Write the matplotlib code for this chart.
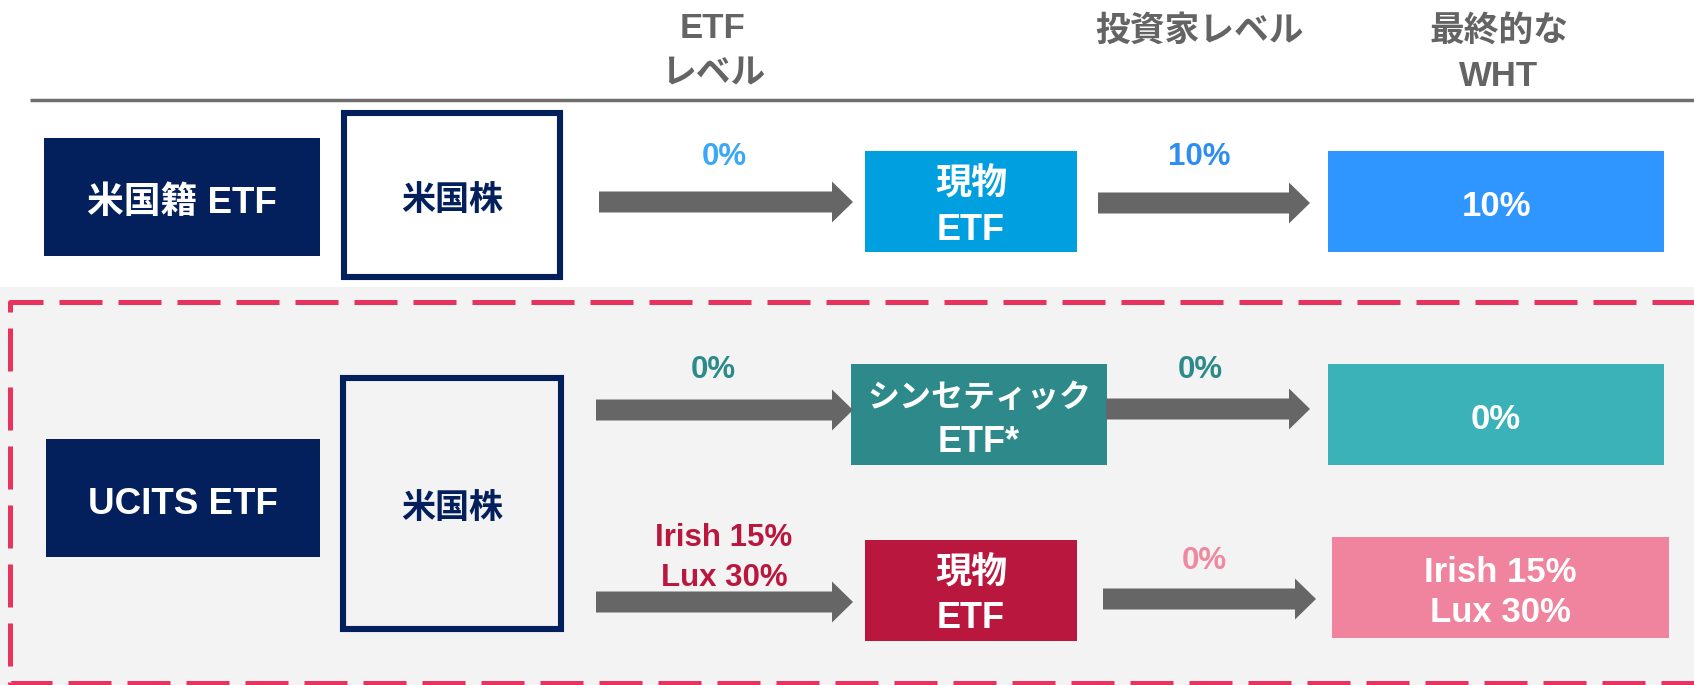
import matplotlib
matplotlib.use("Agg")
import matplotlib.pyplot as plt
from matplotlib.patches import Rectangle, FancyArrow

# ---- data ----
header_labels = ['ETF\nレベル', '投資家レベル', '最終的な\nWHT']
etf_types = ['米国籍 ETF', 'UCITS ETF']
underlying = ['米国株', '米国株']
structures = ['現物\nETF', 'シンセティック\nETF*', '現物\nETF']
etf_level_rates = ['0%', '0%', 'Irish 15%\nLux 30%']
investor_level_rates = ['10%', '0%', '0%']
final_wht = ['10%', '0%', 'Irish 15%\nLux 30%']

# ---- styles ----
FAM = ['Liberation Sans', 'Noto Sans CJK JP', 'DejaVu Sans']
NAVY = '#03205C'
GRAY_TXT = '#646464'
ARROW = '#666666'
struct_colors = ['#009FDF', '#2D898A', '#BA173E']
final_colors = ['#2F96FF', '#3AB2B7', '#F0839D']
etf_rate_colors = ['#3BA8F5', '#2C8A8A', '#BA173E']
inv_rate_colors = ['#2D8EF0', '#2C8A8A', '#F088A0']

fig = plt.figure(figsize=(16.94, 6.85), dpi=100)
ax = fig.add_axes([0, 0, 1, 1])
ax.set_xlim(0, 1694)
ax.set_ylim(685, 0)
ax.axis('off')

def txt(x, y, s, size, color, ls=1.25):
    ax.text(x, y, s, ha='center', va='center', fontsize=size, color=color,
            fontweight='bold', family=FAM, linespacing=ls, multialignment='center')

def box(x0, y0, x1, y1, fc):
    ax.add_patch(Rectangle((x0, y0), x1 - x0, y1 - y0, facecolor=fc, edgecolor='none'))

def arrow(x0, x1, yc):
    ax.add_patch(FancyArrow(x0, yc, x1 - x0, 0, width=21, head_width=41, head_length=21,
                            length_includes_head=True, color=ARROW, lw=0))

# gray background + dashed frame
box(0, 287, 1700, 690, '#F3F3F3')
ax.plot([1700, 10, 10, 1700], [302, 302, 683, 683], color='#E8335F', lw=3.6,
        linestyle=(0, (8.6, 3.2)), solid_capstyle='butt', dash_capstyle='butt')

# headers
hdr_x = [713, 1199, 1499]
hdr_y = [51, 31, 54]
for x, y, s in zip(hdr_x, hdr_y, header_labels):
    txt(x, y, s, 25, GRAY_TXT, ls=1.47)
ax.plot([30, 1694], [100, 100], color='#6E6E6E', lw=2.5, solid_capstyle='butt')

# left boxes
etf_boxes = [(44, 138, 320, 256), (46, 439, 320, 557)]
for (x0, y0, x1, y1), s in zip(etf_boxes, etf_types):
    box(x0, y0, x1, y1, NAVY)
    txt((x0 + x1) / 2, (y0 + y1) / 2 + 6, s, 26.5, 'white')

und_boxes = [(341, 110, 563, 280), (340, 375, 564, 632)]
for (x0, y0, x1, y1), s in zip(und_boxes, underlying):
    ax.add_patch(Rectangle((x0 + 3, y0 + 3), x1 - x0 - 6, y1 - y0 - 6,
                           facecolor='none', edgecolor=NAVY, lw=4.4))
    txt((x0 + x1) / 2, (y0 + y1) / 2 + 6, s, 24.5, NAVY)

# structure boxes (each line drawn separately)
struct_boxes = [(865, 151, 1077, 252), (851, 364, 1107, 465), (865, 540, 1077, 641)]
struct_line_sizes = [[26, 26], [23, 26], [26, 26]]
struct_pitch = [45, 43, 45]
for (x0, y0, x1, y1), s, c, sizes, p in zip(struct_boxes, structures, struct_colors,
                                            struct_line_sizes, struct_pitch):
    box(x0, y0, x1, y1, c)
    cx, cy = (x0 + x1) / 2, (y0 + y1) / 2
    for i, (line, fs) in enumerate(zip(s.split('\n'), sizes)):
        txt(cx, cy + 6 + (i - 0.5) * p, line, fs, 'white')

# final WHT boxes
final_boxes = [(1328, 151, 1664, 252), (1328, 364, 1664, 465), (1332, 537, 1669, 638)]
final_sizes = [25, 25, 25]
for (x0, y0, x1, y1), s, c, fs in zip(final_boxes, final_wht, final_colors, final_sizes):
    box(x0, y0, x1, y1, c)
    txt((x0 + x1) / 2, (y0 + y1) / 2 + 5, s, fs, 'white', ls=1.27)

# arrows ETF level
a1 = [(599, 853, 202), (596, 853, 410), (596, 853, 602)]
l1 = [(724, 157), (713, 370), (724, 558)]
for (x0, x1, yc), (lx, ly), s, c in zip(a1, l1, etf_level_rates, etf_rate_colors):
    arrow(x0, x1, yc)
    txt(lx, ly, s, 22.5, c, ls=1.44)

# arrows investor level
a2 = [(1098, 1310, 203), (1106, 1310, 409), (1103, 1316, 599)]
l2 = [(1199, 157), (1200, 370), (1204, 561)]
for (x0, x1, yc), (lx, ly), s, c in zip(a2, l2, investor_level_rates, inv_rate_colors):
    arrow(x0, x1, yc)
    txt(lx, ly, s, 22.5, c)

fig.savefig('out.png', dpi=100)
